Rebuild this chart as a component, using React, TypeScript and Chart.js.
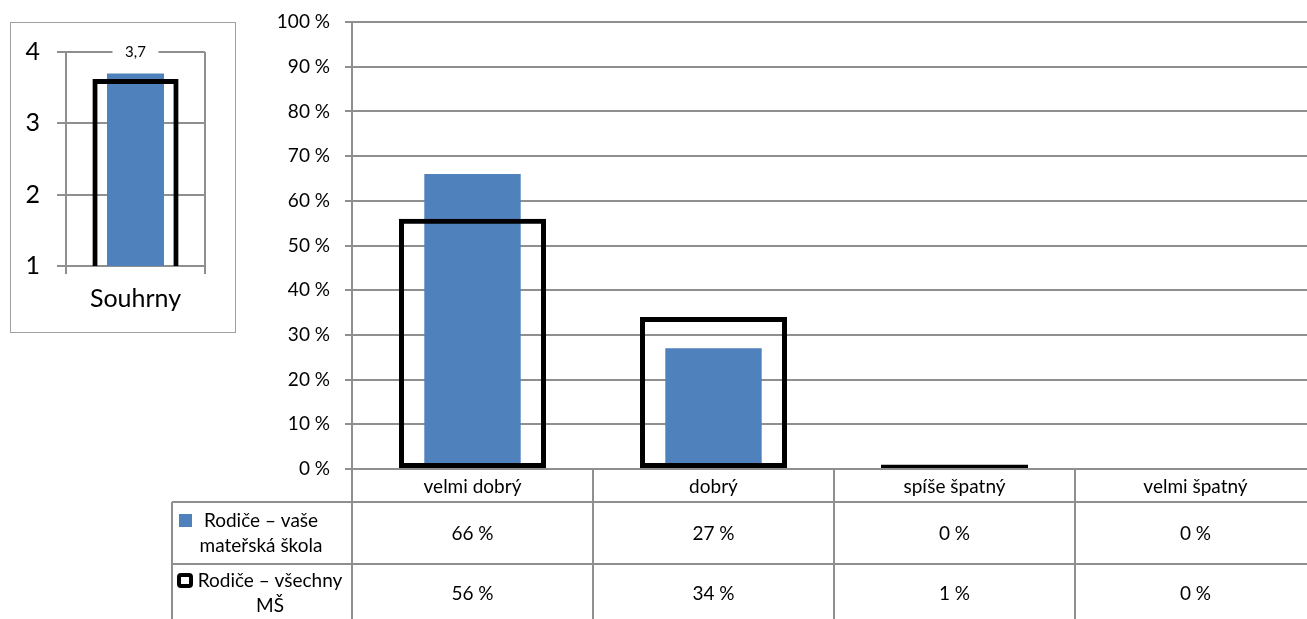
import React, { useEffect, useRef } from "react";
import { Chart, registerables } from "chart.js";

Chart.register(...registerables);

// ---- data ----
const categories = ["velmi dobrý", "dobrý", "spíše špatný", "velmi špatný"];
const schoolValues = [66, 27, 0, 0];
const allValues = [56, 34, 1, 0];
const schoolName = ["Rodiče – vaše", "mateřská škola"];
const allName = ["Rodiče – všechny", "MŠ"];

const summaryLabels = ["Souhrny"];
const summarySchool = [3.7];
const summaryAll = [3.62];
const summarySchoolLabel = ["3,7"];

// ---- styles ----
const FONT = "Lato, 'Open Sans', sans-serif";
const BLUE = "#4F81BD";
const GRID = "#8f8f8f";
const MAIN_FONT = 19;
const SMALL_FONT = 25;

const tablePlugin = {
  id: "dataTable",
  afterDraw(chart: any) {
    const ctx = chart.ctx;
    const x = chart.scales.x;
    const area = chart.chartArea;
    const W = chart.width;
    const n = categories.length;
    const band = (x.right - x.left) / n;
    const y0 = area.bottom;
    const y1 = y0 + 33;
    const y2 = y0 + 95;
    const y3 = y0 + 157;
    const leftX = 12;
    ctx.save();
    ctx.strokeStyle = GRID;
    ctx.lineWidth = 2;
    const line = (ax: number, ay: number, bx: number, by: number) => {
      ctx.beginPath();
      ctx.moveTo(ax, ay);
      ctx.lineTo(bx, by);
      ctx.stroke();
    };
    line(leftX, y1, W, y1);
    line(leftX, y2, W, y2);
    line(leftX, y3, W, y3);
    line(leftX, y1, leftX, y3);
    for (let i = 0; i <= n; i++) {
      const px = Math.round(x.left + i * band);
      line(px, i === 0 ? area.top : y0, px, y3);
    }
    ctx.fillStyle = "#000";
    ctx.font = `${MAIN_FONT}px ${FONT}`;
    ctx.textAlign = "center";
    ctx.textBaseline = "middle";
    for (let i = 0; i < n; i++) {
      const cx = x.getPixelForValue(i);
      ctx.fillText(`${schoolValues[i]} %`, cx, y0 + 65);
      ctx.fillText(`${allValues[i]} %`, cx, y0 + 125);
    }
    // legend column
    ctx.textBaseline = "alphabetic";
    const colCenter = (leftX + x.left) / 2;
    ctx.fillText(schoolName[0], colCenter - 1, y0 + 58);
    ctx.fillText(schoolName[1], colCenter - 1, y0 + 83);
    ctx.fillText(allName[0], colCenter + 8, y0 + 118);
    ctx.fillText(allName[1], colCenter + 8, y0 + 143);
    ctx.fillStyle = BLUE;
    ctx.fillRect(leftX + 7, y0 + 45, 13, 13);
    ctx.strokeStyle = "#000";
    ctx.lineWidth = 4;
    ctx.beginPath();
    ctx.roundRect(leftX + 7, y0 + 106, 12, 11, 2);
    ctx.stroke();
    ctx.restore();
  },
};

const summaryLabelPlugin = {
  id: "summaryLabel",
  afterDatasetsDraw(chart: any) {
    const ctx = chart.ctx;
    const x = chart.scales.x;
    const area = chart.chartArea;
    ctx.save();
    ctx.font = `15px ${FONT}`;
    const cx = x.getPixelForValue(0);
    ctx.fillStyle = "#fff";
    ctx.fillRect(cx - 23, area.top - 9, 46, 18);
    ctx.fillStyle = "#000";
    ctx.textAlign = "center";
    ctx.textBaseline = "middle";
    ctx.fillText(summarySchoolLabel[0], cx, area.top);
    ctx.restore();
  },
};

const noVPad = (s: any) => {
  s.paddingTop = 0;
  s.paddingBottom = 0;
};

function MainChart() {
  const ref = useRef<HTMLCanvasElement>(null);
  useEffect(() => {
    const chart = new Chart(ref.current as HTMLCanvasElement, {
      type: "bar",
      data: {
        labels: categories,
        datasets: [
          {
            label: schoolName.join(" "),
            data: schoolValues,
            backgroundColor: BLUE,
            borderWidth: 0,
            barPercentage: 0.4,
            categoryPercentage: 1,
            grouped: false,
            order: 1,
          } as any,
          {
            label: allName.join(" "),
            data: allValues,
            backgroundColor: "rgba(0,0,0,0)",
            borderColor: "#000",
            borderWidth: 5,
            borderSkipped: false,
            barPercentage: 0.61,
            categoryPercentage: 1,
            grouped: false,
            order: 0,
          } as any,
        ],
      },
      options: {
        animation: false,
        responsive: false,
        maintainAspectRatio: false,
        layout: { padding: { top: 22, right: 4, left: 0, bottom: 0 } },
        plugins: { legend: { display: false }, tooltip: { enabled: false } },
        scales: {
          x: {
            grid: { display: false, drawTicks: false },
            border: { display: false },
            ticks: {
              color: "#000",
              font: { family: FONT, size: MAIN_FONT },
              padding: 6,
              maxRotation: 0,
              autoSkip: false,
            },
            afterFit: (s: any) => {
              s.height = 156;
            },
          },
          y: {
            min: 0,
            max: 100,
            ticks: {
              stepSize: 10,
              color: "#000",
              font: { family: FONT, size: MAIN_FONT },
              padding: 15,
              callback: (v: any) => `${v} %`,
            },
            grid: { color: GRID, lineWidth: 2, tickLength: 7 },
            border: { color: GRID, width: 2 },
            afterFit: (s: any) => {
              s.width = 192;
              noVPad(s);
            },
          },
        },
      } as any,
      plugins: [tablePlugin],
    });
    return () => chart.destroy();
  }, []);
  return (
    <canvas
      ref={ref}
      width={1160}
      height={625}
      style={{ position: "absolute", left: 160, top: 0, width: 1160, height: 625 }}
    />
  );
}

function SummaryChart() {
  const ref = useRef<HTMLCanvasElement>(null);
  useEffect(() => {
    const chart = new Chart(ref.current as HTMLCanvasElement, {
      type: "bar",
      data: {
        labels: summaryLabels,
        datasets: [
          {
            data: summarySchool,
            backgroundColor: BLUE,
            borderWidth: 0,
            barPercentage: 0.41,
            categoryPercentage: 1,
            grouped: false,
            order: 1,
          } as any,
          {
            data: summaryAll,
            backgroundColor: "rgba(0,0,0,0)",
            borderColor: "#000",
            borderWidth: 5,
            borderSkipped: false,
            barPercentage: 0.62,
            categoryPercentage: 1,
            grouped: false,
            order: 0,
          } as any,
        ],
      },
      options: {
        animation: false,
        responsive: false,
        maintainAspectRatio: false,
        layout: { padding: { top: 29, right: 30, left: 0, bottom: 0 } },
        plugins: { legend: { display: false }, tooltip: { enabled: false } },
        scales: {
          x: {
            grid: { offset: true, color: GRID, lineWidth: 2, tickLength: 8 },
            border: { color: GRID, width: 2 },
            ticks: {
              color: "#000",
              font: { family: FONT, size: SMALL_FONT },
              padding: 10,
            },
            afterFit: (s: any) => {
              s.height = 66;
            },
          },
          y: {
            min: 1,
            max: 4,
            ticks: {
              stepSize: 1,
              color: "#000",
              font: { family: FONT, size: SMALL_FONT },
              padding: 17,
            },
            grid: { color: GRID, lineWidth: 2, tickLength: 9 },
            border: { color: GRID, width: 2 },
            afterFit: (s: any) => {
              s.width = 55;
              noVPad(s);
            },
          },
        },
      } as any,
      plugins: [summaryLabelPlugin],
    });
    return () => chart.destroy();
  }, []);
  return (
    <div
      style={{
        position: "absolute",
        left: 10,
        top: 22,
        width: 224,
        height: 309,
        border: "1px solid #a0a0a0",
      }}
    >
      <canvas ref={ref} width={224} height={309} style={{ display: "block", width: 224, height: 309 }} />
    </div>
  );
}

export default function App() {
  return (
    <div
      style={{
        position: "absolute",
        left: 0,
        top: 0,
        width: 1307,
        height: 619,
        overflow: "hidden",
        background: "#fff",
      }}
    >
      <SummaryChart />
      <MainChart />
    </div>
  );
}
